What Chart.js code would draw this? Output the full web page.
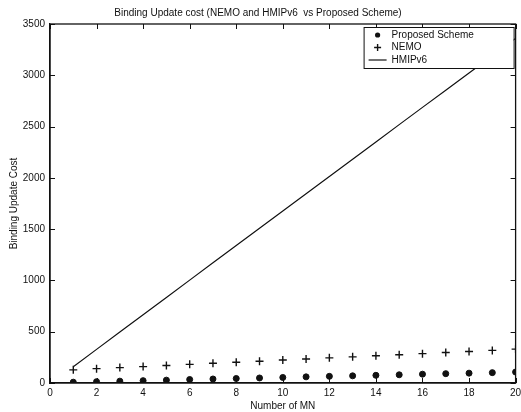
<!DOCTYPE html>
<html>
<head>
<meta charset="utf-8">
<script src="https://cdn.jsdelivr.net/npm/chart.js@4.4.1/dist/chart.umd.min.js"></script>
<style>
  html, body { margin: 0; padding: 0; background: #fff; }
  #wrap { width: 521px; height: 412px; }
</style>
</head>
<body>
<div id="wrap"><canvas id="buChart"></canvas></div>
<script>
// -------------------------------------
// Data
// -------------------------------------
const numberOfMN = [1, 2, 3, 4, 5, 6, 7, 8, 9, 10, 11, 12, 13, 14, 15, 16, 17, 18, 19, 20];
const proposedCost = [8, 13, 18, 23, 28, 34, 39, 44, 49, 54, 60, 65, 70, 75, 80, 86, 91, 96, 101, 107];
const nemoCost = [128, 140, 150, 160, 170, 182, 192, 202, 212, 224, 234, 245, 255, 265, 276, 286, 297, 307, 318, 330];
const hmipCost = [158, 328, 497, 665, 834, 1003, 1172, 1340, 1508, 1677, 1845, 2014, 2182, 2350, 2519, 2687, 2855, 3023, 3191, 3360];
const xTicks = [0, 2, 4, 6, 8, 10, 12, 14, 16, 18, 20];
const yTicks = [0, 500, 1000, 1500, 2000, 2500, 3000, 3500];

const FONT = "'Liberation Sans', Arial, sans-serif";
const INK = "#111";

function pts(values) {
  return numberOfMN.map((n, i) => ({ x: n, y: values[i] }));
}

// box + inward tick marks, matlab style
const framePlugin = {
  id: "frame",
  afterDatasetsDraw(chart) {
    const { ctx, chartArea: a, scales } = chart;
    ctx.save();
    ctx.strokeStyle = INK;
    ctx.lineWidth = 1;
    ctx.beginPath();
    xTicks.forEach((v) => {
      const px = Math.round(scales.x.getPixelForValue(v)) + 0.5;
      ctx.moveTo(px, a.bottom); ctx.lineTo(px, a.bottom - 5);
      ctx.moveTo(px, a.top); ctx.lineTo(px, a.top + 5);
    });
    yTicks.forEach((v) => {
      const py = Math.round(scales.y.getPixelForValue(v)) + 0.5;
      ctx.moveTo(a.left, py); ctx.lineTo(a.left + 5, py);
      ctx.moveTo(a.right, py); ctx.lineTo(a.right - 5, py);
    });
    ctx.stroke();
    ctx.lineWidth = 1.3;
    ctx.strokeRect(a.left, a.top, a.right - a.left, a.bottom - a.top);
    ctx.restore();
  }
};

// legend box inside the axes, top right
const innerLegend = {
  id: "innerLegend",
  afterDatasetsDraw(chart) {
    const { ctx, chartArea: a } = chart;
    const w = 150, h = 41;
    const x0 = a.right - w - 2, y0 = a.top + 3;
    ctx.save();
    ctx.fillStyle = "#fff";
    ctx.fillRect(x0, y0, w, h);
    ctx.strokeStyle = INK;
    ctx.lineWidth = 1;
    ctx.strokeRect(x0 + 0.5, y0 + 0.5, w, h);
    ctx.font = "10px " + FONT;
    ctx.fillStyle = INK;
    ctx.textBaseline = "middle";
    const labels = chart.data.datasets.map((d) => d.label);
    labels.forEach((lab, i) => {
      const cy = y0 + 8 + i * 12.5;
      const mx = x0 + 14;
      if (i === 0) {
        ctx.beginPath(); ctx.arc(mx, cy, 2.6, 0, Math.PI * 2); ctx.fill();
      } else if (i === 1) {
        ctx.beginPath();
        ctx.lineWidth = 1.4;
        ctx.moveTo(mx - 3.5, cy); ctx.lineTo(mx + 3.5, cy);
        ctx.moveTo(mx, cy - 3.5); ctx.lineTo(mx, cy + 3.5);
        ctx.stroke();
      } else {
        ctx.beginPath();
        ctx.lineWidth = 1.2;
        ctx.moveTo(mx - 9, cy); ctx.lineTo(mx + 9, cy);
        ctx.stroke();
      }
      ctx.fillText(lab, x0 + 28, cy);
    });
    ctx.restore();
  }
};

const ctx = document.getElementById("buChart");

const buChart = new Chart(ctx, {
  type: "scatter",
  data: {
    datasets: [
      {
        label: "Proposed Scheme",
        data: pts(proposedCost),
        pointStyle: "circle",
        pointRadius: 3,
        backgroundColor: INK,
        borderColor: INK,
        showLine: false,
      },
      {
        label: "NEMO",
        data: pts(nemoCost),
        pointStyle: "cross",
        pointRadius: 4,
        borderWidth: 1.4,
        borderColor: INK,
        showLine: false,
      },
      {
        label: "HMIPv6",
        data: pts(hmipCost),
        showLine: true,
        pointRadius: 0,
        borderWidth: 1.2,
        borderColor: INK,
        fill: false,
        tension: 0,
      },
    ],
  },
  options: {
    responsive: true,
    maintainAspectRatio: false,
    animation: false,
    devicePixelRatio: 1,
    layout: { padding: { left: 0, right: 5, top: 0, bottom: 0 } },

    plugins: {
      legend: { display: false },
      tooltip: { enabled: false },
      title: {
        display: true,
        text: "Binding Update cost (NEMO and HMIPv6  vs Proposed Scheme)",
        color: INK,
        font: { family: FONT, size: 10, weight: "normal", lineHeight: 1.2 },
        padding: { top: 7, bottom: 5 },
      },
    },

    scales: {
      x: {
        type: "linear",
        min: 0,
        max: 20,
        afterBuildTicks: (s) => { s.ticks = xTicks.map((v) => ({ value: v })); },
        afterFit: (s) => { s.height = 29; s.paddingRight = 0; s.paddingLeft = 0; },
        grid: { display: false, drawTicks: false },
        border: { display: true, color: INK, width: 1.3 },
        ticks: {
          color: INK, padding: 4, maxRotation: 0,
          font: { family: FONT, size: 10 },
          callback: (v) => String(v),
        },
        title: {
          display: true,
          text: "Number of MN",
          color: INK,
          font: { family: FONT, size: 10 },
          padding: { top: 0, bottom: 0 },
        },
      },
      y: {
        type: "linear",
        min: 0,
        max: 3500,
        afterBuildTicks: (s) => { s.ticks = yTicks.map((v) => ({ value: v })); },
        afterFit: (s) => { s.width = 50; },
        grid: { display: false, drawTicks: false },
        border: { display: true, color: INK, width: 1.3 },
        ticks: {
          color: INK, padding: 5,
          font: { family: FONT, size: 10 },
          callback: (v) => String(v),
        },
        title: {
          display: true,
          text: "Binding Update Cost",
          color: INK,
          font: { family: FONT, size: 10 },
          padding: { top: 8, bottom: 0 },
        },
      },
    },
  },
  plugins: [framePlugin, innerLegend],
});
</script>
</body>
</html>
